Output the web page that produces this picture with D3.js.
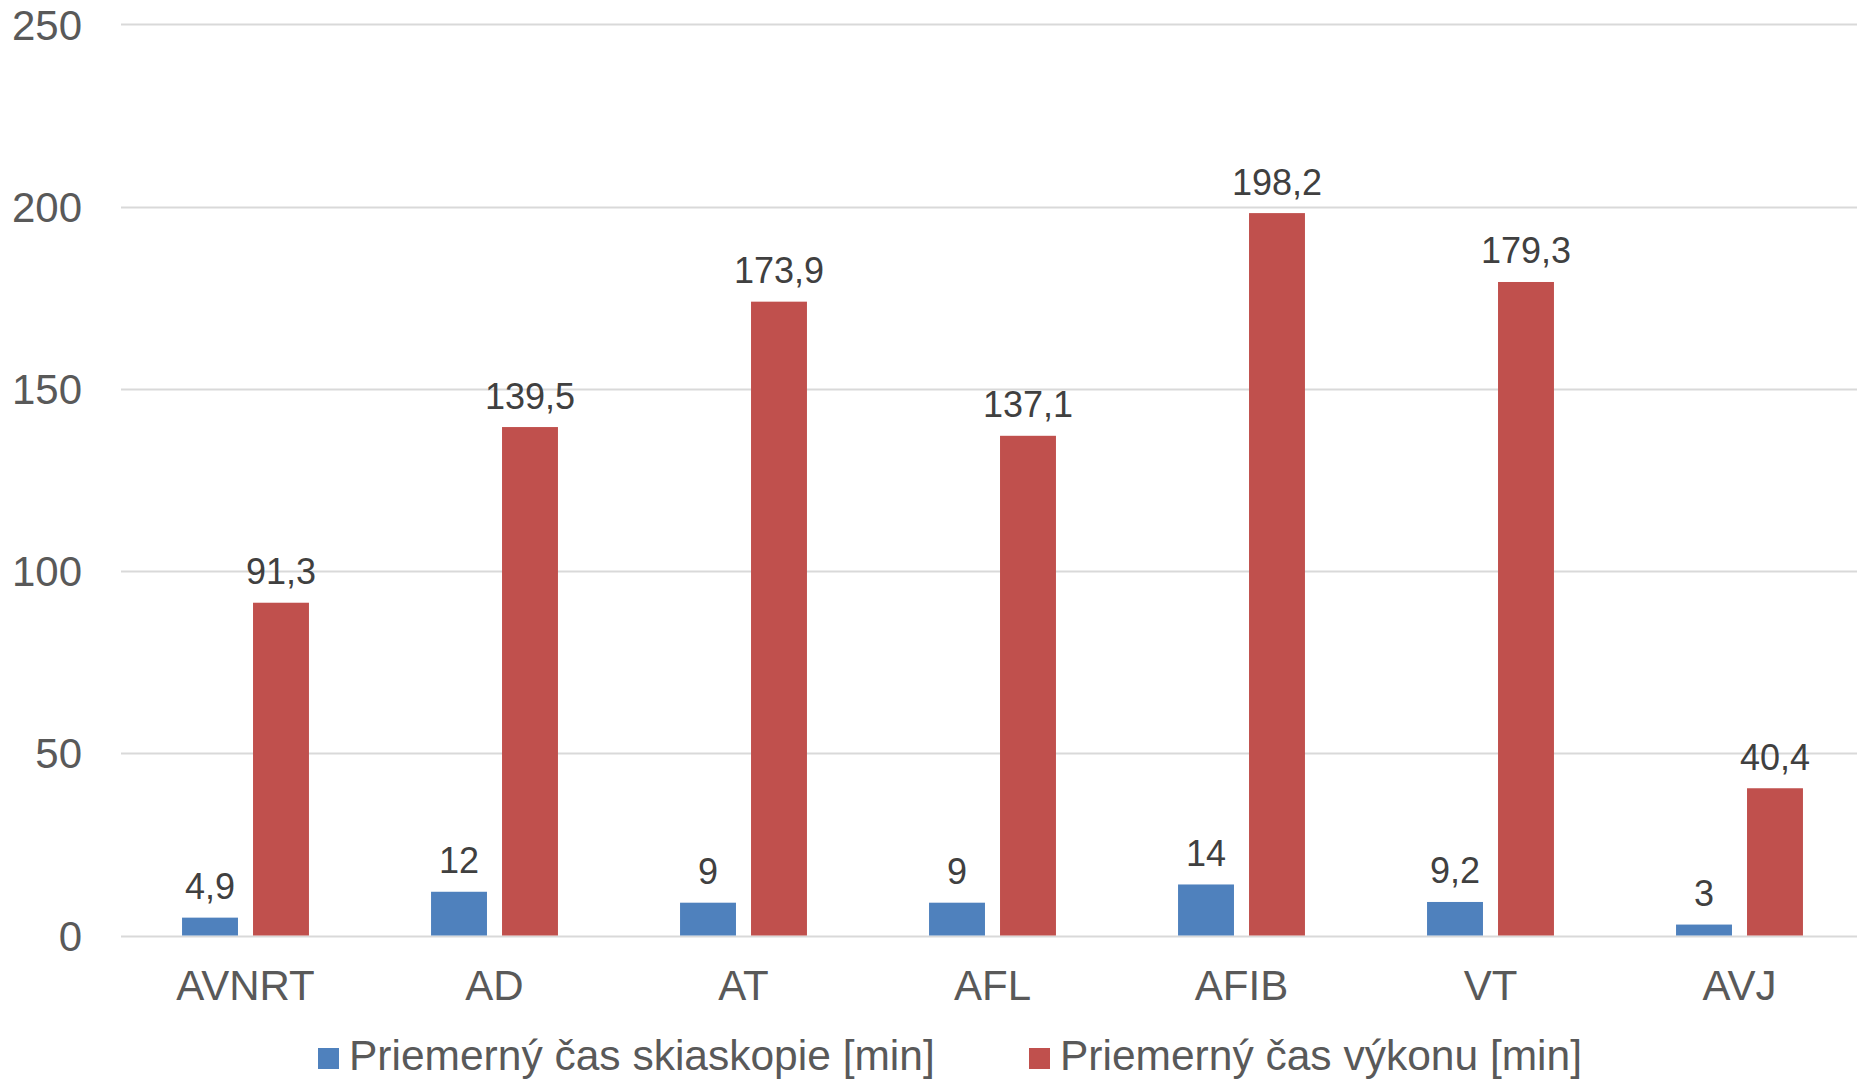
<!DOCTYPE html>
<html>
<head>
<meta charset="utf-8">
<script src="https://cdn.jsdelivr.net/npm/d3@7"></script>
<style>
  html, body { margin: 0; padding: 0; background: #ffffff; }
  svg { display: block; font-family: "Liberation Sans", Arial, sans-serif; }
</style>
</head>
<body>
<svg id="chart" width="1857" height="1081"></svg>
<script>
const categories = ["AVNRT", "AD", "AT", "AFL", "AFIB", "VT", "AVJ"];
const seriesNames = ["Priemerný čas skiaskopie [min]", "Priemerný čas výkonu [min]"];
const skiaskopie = [4.9, 12, 9, 9, 14, 9.2, 3];
const vykon = [91.3, 139.5, 173.9, 137.1, 198.2, 179.3, 40.4];
const yTicks = [0, 50, 100, 150, 200, 250];
const colors = ["#4F81BD", "#C0504D"];

const svg = d3.select("#chart");
const plotLeft = 121, plotRight = 1857, plotTop = 24.3, plotBottom = 935.5;
const bandRight = 1864;

const y = d3.scaleLinear().domain([0, 250]).range([plotBottom, plotTop]);
const x0 = d3.scaleBand().domain(categories).range([plotLeft, bandRight]).padding(0);
const x1 = d3.scaleBand().domain([0, 1]).range([0, x0.bandwidth()])
  .paddingInner(0.212).paddingOuter(0.86);

const fmt = v => String(v).replace(".", ",");
const FONT = "Liberation Sans, Arial, sans-serif";

// gridlines
svg.append("g").selectAll("line").data(yTicks).join("line")
  .attr("x1", plotLeft).attr("x2", plotRight)
  .attr("y1", d => Math.round(y(d)) + 0.5).attr("y2", d => Math.round(y(d)) + 0.5)
  .attr("stroke", "#D9D9D9").attr("stroke-width", 2);

// y axis labels
const yAxis = d3.axisLeft(y).tickValues(yTicks).tickSize(0).tickPadding(0);
const yg = svg.append("g").attr("transform", "translate(82,0)").call(yAxis);
yg.select(".domain").remove();
yg.selectAll("text").attr("font-size", 42).attr("fill", "#595959")
  .attr("font-family", FONT).attr("dy", "0.35em");

// x axis labels
const xAxis = d3.axisBottom(x0).tickSize(0).tickPadding(0);
const xg = svg.append("g").attr("transform", "translate(0,1000)").call(xAxis);
xg.select(".domain").remove();
xg.selectAll("text").attr("font-size", 42).attr("fill", "#595959")
  .attr("font-family", FONT).attr("dy", "0");

const data = categories.map((c, i) => ({ cat: c, vals: [skiaskopie[i], vykon[i]] }));

const groups = svg.append("g").selectAll("g").data(data).join("g")
  .attr("transform", d => `translate(${x0(d.cat)},0)`);

groups.selectAll("rect").data(d => d.vals.map((v, k) => ({ k, v }))).join("rect")
  .attr("x", d => x1(d.k)).attr("width", x1.bandwidth())
  .attr("y", d => y(d.v)).attr("height", d => y(0) - y(d.v))
  .attr("fill", d => colors[d.k]);

groups.selectAll("text.lbl").data(d => d.vals.map((v, k) => ({ k, v }))).join("text")
  .attr("class", "lbl")
  .attr("x", d => x1(d.k) + x1.bandwidth() / 2)
  .attr("y", d => y(d.v) - 18.5)
  .attr("text-anchor", "middle").attr("font-size", 36).attr("fill", "#404040")
  .attr("font-family", FONT)
  .text(d => fmt(d.v));

// legend
const legendX = [318, 1029];
const lg = svg.append("g").selectAll("g").data(seriesNames).join("g")
  .attr("transform", (d, i) => `translate(${legendX[i]},0)`);
lg.append("rect").attr("x", 0).attr("y", 1048).attr("width", 21).attr("height", 21)
  .attr("fill", (d, i) => colors[i]);
lg.append("text").attr("x", 31).attr("y", 1070).attr("font-size", 42.5).attr("fill", "#595959")
  .attr("font-family", FONT)
  .text(d => d);
</script>
</body>
</html>
